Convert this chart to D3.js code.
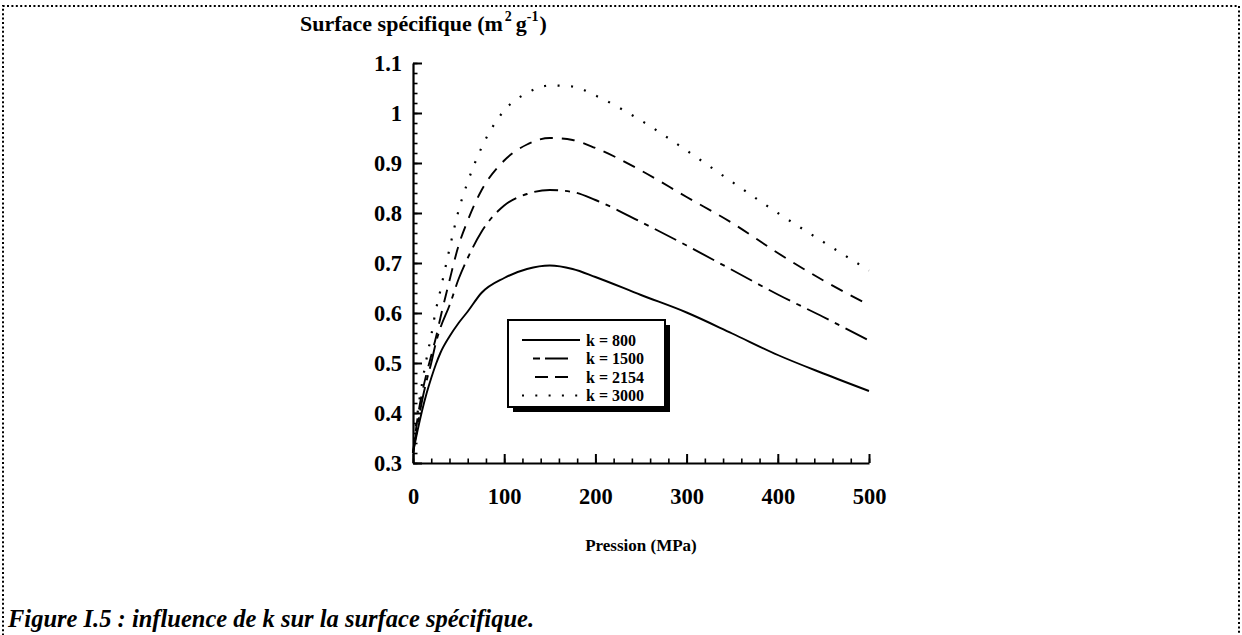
<!DOCTYPE html>
<html>
<head>
<meta charset="utf-8">
<script src="https://cdn.jsdelivr.net/npm/d3@7"></script>
<style>
  html, body { margin: 0; padding: 0; background: #fff; }
  svg { display: block; }
  text { font-family: "Liberation Serif", "Times New Roman", serif; font-weight: bold; fill: #000; }
</style>
</head>
<body>
<svg id="chart" width="1242" height="635"></svg>
<script>
// ---- data ----
const pressure = [0, 5, 10, 15, 20, 25, 30, 40, 50, 60, 75, 100, 125, 150, 175, 200, 250, 300, 350, 400, 450, 500];
const k800  = [0.32, 0.365, 0.405, 0.44, 0.47, 0.497, 0.52, 0.553, 0.58, 0.603, 0.64, 0.67, 0.688, 0.695, 0.688, 0.672, 0.636, 0.601, 0.559, 0.516, 0.479, 0.444];
const k1500 = [0.32, 0.375, 0.425, 0.465, 0.5, 0.54, 0.57, 0.615, 0.668, 0.71, 0.762, 0.815, 0.838, 0.846, 0.842, 0.826, 0.782, 0.735, 0.686, 0.637, 0.592, 0.545];
const k2154 = [0.32, 0.39, 0.44, 0.48, 0.515, 0.55, 0.59, 0.665, 0.735, 0.785, 0.845, 0.905, 0.937, 0.95, 0.946, 0.93, 0.885, 0.832, 0.78, 0.72, 0.665, 0.616];
const k3000 = [0.32, 0.40, 0.46, 0.51, 0.555, 0.605, 0.645, 0.728, 0.805, 0.862, 0.93, 1.005, 1.04, 1.055, 1.053, 1.035, 0.985, 0.925, 0.862, 0.8, 0.742, 0.685];
const seriesNames = ["k = 800", "k = 1500", "k = 2154", "k = 3000"];
const xTickValues = [0, 100, 200, 300, 400, 500];
const xTickLabels = ["0", "100", "200", "300", "400", "500"];
const yTickValues = [0.3, 0.4, 0.5, 0.6, 0.7, 0.8, 0.9, 1.0, 1.1];
const yTickLabels = ["0.3", "0.4", "0.5", "0.6", "0.7", "0.8", "0.9", "1", "1.1"];
const yTitle = "Surface spécifique (m";
const xTitle = "Pression (MPa)";
const caption = "Figure I.5 : influence de k sur la surface spécifique.";

// ---- styles ----
const dashStyles = ["none", "24,7,5,7", "13,9", "2,11.5"];
const legendDash = ["none", "7,5,23,20", "13,7,13,20", "2,11.3"];
const legendStart = [522, 533, 535, 522];
const legendEnd = [580, 568, 568, 578];

const svg = d3.select("#chart");
const x = d3.scaleLinear().domain([0, 500]).range([413, 869]);
const y = d3.scaleLinear().domain([0.3, 1.1]).range([463, 63]);

// dotted frame
svg.append("path")
  .attr("d", "M3,640 L3,6 L1239,6 L1239,640")
  .attr("fill", "none").attr("stroke", "#000").attr("stroke-width", 2)
  .attr("stroke-dasharray", "2,2.4");

// minor ticks
const xMinor = d3.range(0, 501, 20);
const yMinor = d3.range(0, 41).map(i => +(0.3 + i * 0.02).toFixed(2));

svg.append("g").attr("transform", "translate(0,463)")
  .call(d3.axisBottom(x).tickValues(xMinor).tickSizeInner(-4.5).tickSizeOuter(0).tickFormat(""))
  .call(g => g.select(".domain").remove())
  .call(g => g.selectAll("line").attr("stroke", "#000").attr("stroke-width", 1.6));

svg.append("g").attr("transform", "translate(413,0)")
  .call(d3.axisLeft(y).tickValues(yMinor).tickSizeInner(-4.5).tickSizeOuter(0).tickFormat(""))
  .call(g => g.select(".domain").remove())
  .call(g => g.selectAll("line").attr("stroke", "#000").attr("stroke-width", 1.6));

// major axes
const xAxis = svg.append("g").attr("transform", "translate(0,463)")
  .call(d3.axisBottom(x).tickValues(xTickValues).tickSizeInner(-9).tickSizeOuter(0).tickPadding(25)
    .tickFormat((d, i) => xTickLabels[i]));
xAxis.select(".domain").attr("stroke", "#000").attr("stroke-width", 2.2);
xAxis.selectAll("line").attr("stroke", "#000").attr("stroke-width", 2);
xAxis.selectAll("text").attr("font-size", 22.5).attr("font-family", "Liberation Serif").attr("font-weight", "bold").attr("fill", "#000");

const yAxis = svg.append("g").attr("transform", "translate(413,0)")
  .call(d3.axisLeft(y).tickValues(yTickValues).tickSizeInner(-9).tickSizeOuter(0).tickPadding(11)
    .tickFormat((d, i) => yTickLabels[i]));
yAxis.select(".domain").attr("stroke", "#000").attr("stroke-width", 2.2);
yAxis.selectAll("line").attr("stroke", "#000").attr("stroke-width", 2);
yAxis.selectAll("text").attr("font-size", 22.5).attr("font-family", "Liberation Serif").attr("font-weight", "bold").attr("fill", "#000");

// curves
const allSeries = [k800, k1500, k2154, k3000];
const line = d3.line().x(d => x(d[0])).y(d => y(d[1])).curve(d3.curveMonotoneX);
allSeries.forEach((vals, i) => {
  svg.append("path")
    .datum(pressure.map((p, j) => [p, vals[j]]))
    .attr("d", line)
    .attr("fill", "none").attr("stroke", "#000")
    .attr("stroke-width", i === 3 ? 2.2 : 1.9)
    .attr("stroke-dasharray", dashStyles[i]);
});

// legend
svg.append("rect").attr("x", 513).attr("y", 325).attr("width", 157).attr("height", 87).attr("fill", "#000");
svg.append("rect").attr("x", 508).attr("y", 320).attr("width", 157).attr("height", 87)
  .attr("fill", "#fff").attr("stroke", "#000").attr("stroke-width", 2);
const rowY = [340, 358.5, 377, 395.5];
seriesNames.forEach((name, i) => {
  svg.append("line")
    .attr("x1", legendStart[i]).attr("x2", legendEnd[i])
    .attr("y1", rowY[i]).attr("y2", rowY[i])
    .attr("stroke", "#000").attr("stroke-width", 2)
    .attr("stroke-dasharray", legendDash[i]);
  svg.append("text").attr("x", 586).attr("y", rowY[i]).attr("dy", "0.35em")
    .attr("font-size", 16).text(name);
});

// y title with superscripts
const yt = svg.append("text").attr("x", 300).attr("y", 31).attr("font-size", 22);
yt.append("tspan").text(yTitle);
yt.append("tspan").attr("dy", -10).attr("dx", 2).attr("font-size", 14).text("2");
yt.append("tspan").attr("dy", 10).attr("dx", 4).text("g");
yt.append("tspan").attr("dy", -10).attr("font-size", 14).text("-1");
yt.append("tspan").attr("dy", 10).attr("dx", 1).text(")");

// x title
svg.append("text").attr("x", 641).attr("y", 551).attr("text-anchor", "middle")
  .attr("font-size", 17).text(xTitle);

// caption
svg.append("text").attr("x", 8).attr("y", 627).attr("font-size", 24.5)
  .attr("font-style", "italic").text(caption);
</script>
</body>
</html>
